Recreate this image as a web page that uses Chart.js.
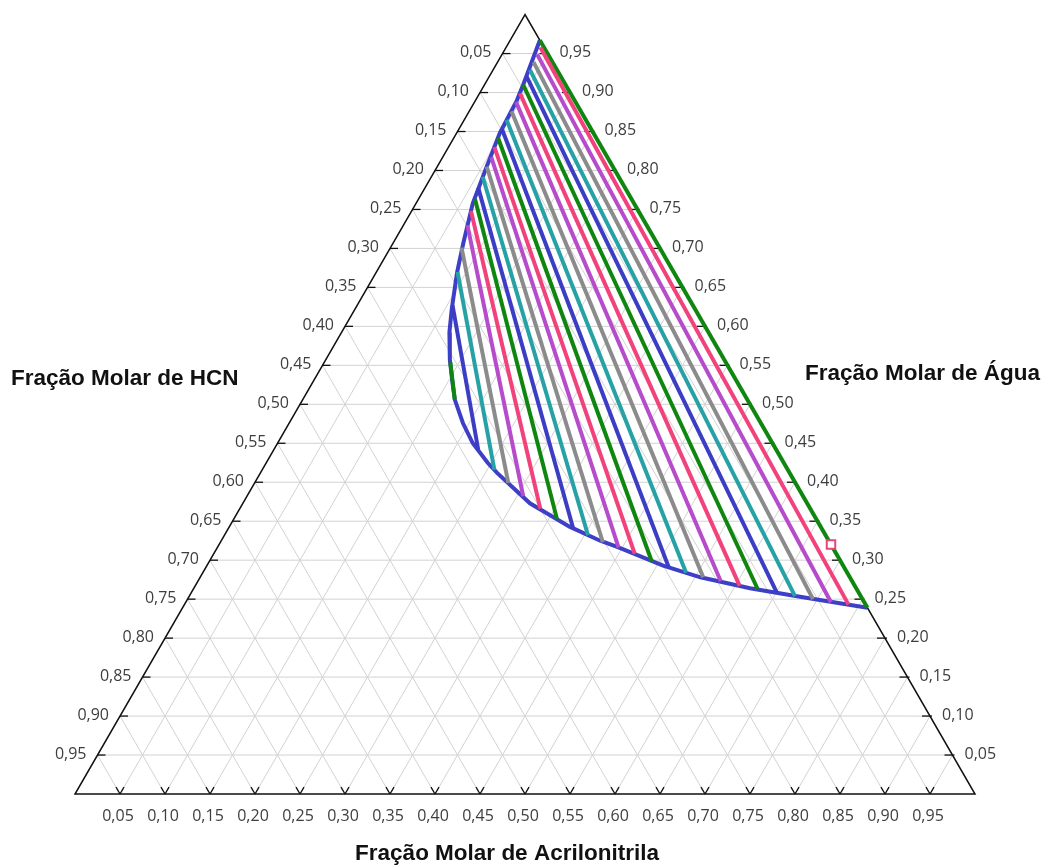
<!DOCTYPE html>
<html><head><meta charset="utf-8">
<script src="https://cdn.jsdelivr.net/npm/chart.js@4.4.1/dist/chart.umd.min.js"></script>
<style>html,body{margin:0;padding:0;background:#fff;overflow:hidden}#wrap{width:1048px;height:866px;position:relative}</style>
</head><body><div id="wrap"><canvas id="c" width="1048" height="866"></canvas></div>
<script>
// Tick values (same for the three axes) and their labels
const tickValues = [0.05,0.10,0.15,0.20,0.25,0.30,0.35,0.40,0.45,0.50,0.55,0.60,0.65,0.70,0.75,0.80,0.85,0.90,0.95];
const tickLabels = ['0,05','0,10','0,15','0,20','0,25','0,30','0,35','0,40','0,45','0,50','0,55','0,60','0,65','0,70','0,75','0,80','0,85','0,90','0,95'];

// Axis titles
const titleHCN = 'Fração Molar de HCN';
const titleWater = 'Fração Molar de Água';
const titleAcry = 'Fração Molar de Acrilonitrila';

// Binodal curve (water and HCN mole fractions; acrylonitrile = 1 - water - HCN)
const binodalWater = [0.967,0.910,0.890,0.848,0.805,0.758,0.707,0.669,0.621,0.592,0.557,0.527,0.506,0.476,0.450,0.425,0.412,0.373,0.343,0.325,0.317,0.293,0.278,0.264,0.253,0.239];
const binodalHCN   = [0.000,0.047,0.064,0.104,0.140,0.179,0.215,0.241,0.271,0.288,0.305,0.317,0.325,0.331,0.333,0.329,0.325,0.308,0.279,0.254,0.239,0.200,0.166,0.118,0.068,0.000];

// Tie lines: water-rich end and acrylonitrile-rich end
const tieTopWater    = [0.967,0.958,0.949,0.939,0.929,0.920,0.910,0.899,0.888,0.876,0.865,0.853,0.842,0.830,0.817,0.805,0.792,0.778,0.763,0.748,0.730,0.701,0.670,0.627,0.554];
const tieTopHCN      = [0.000,0.004,0.012,0.021,0.030,0.038,0.047,0.056,0.066,0.077,0.088,0.099,0.109,0.119,0.129,0.140,0.151,0.163,0.174,0.186,0.199,0.220,0.240,0.267,0.306];
const tieBottomWater = [0.239,0.243,0.246,0.250,0.254,0.258,0.263,0.267,0.273,0.278,0.284,0.290,0.298,0.308,0.316,0.323,0.332,0.341,0.353,0.366,0.382,0.399,0.416,0.442,0.506];
const tieBottomHCN   = [0.000,0.019,0.037,0.055,0.073,0.091,0.110,0.128,0.146,0.163,0.179,0.195,0.210,0.224,0.238,0.252,0.264,0.276,0.288,0.300,0.311,0.319,0.326,0.331,0.325];
const tieColors = ['#0f860f','#f2427c','#b64bcb','#8b8b8b','#26a2a6','#3b3ec4'];

// Marked point
const markerWater = [0.32];
const markerHCN = [0.00];

const S3 = Math.sqrt(3)/2;
function tern(w, h){ const a = 1 - w - h; return {x: a + w/2, y: w*S3}; }

const datasets = [];
datasets.push({
  data: markerWater.map((w,i)=>tern(w, markerHCN[i])),
  showLine:false, pointStyle:'rect', pointRadius:6, pointBorderWidth:2,
  pointBorderColor:'#e8457c', pointBackgroundColor:'#ffffff', clip:false
});
for (let i = tieTopWater.length-1; i >= 0; i--) {
  datasets.push({
    data:[tern(tieTopWater[i], tieTopHCN[i]), tern(tieBottomWater[i], tieBottomHCN[i])],
    showLine:true, borderColor:tieColors[i%6], borderWidth:4, pointRadius:0, clip:false
  });
}
datasets.push({
  data: binodalWater.map((w,i)=>tern(w, binodalHCN[i])),
  showLine:true, borderColor:'#3d3fc6', borderWidth:4, pointRadius:0, tension:0, clip:false
});

function P(chart, w, h){ const p = tern(w,h); return [chart.scales.x.getPixelForValue(p.x), chart.scales.y.getPixelForValue(p.y)]; }
function seg(ctx, a, b){ ctx.beginPath(); ctx.moveTo(a[0],a[1]); ctx.lineTo(b[0],b[1]); ctx.stroke(); }

const ternaryPlugin = {
  id:'ternary',
  beforeDatasetsDraw(chart){
    const ctx = chart.ctx;
    ctx.save();
    ctx.strokeStyle = '#d2d2d2'; ctx.lineWidth = 1;
    for (const v of tickValues){
      seg(ctx, P(chart, v, 1-v), P(chart, v, 0));
      seg(ctx, P(chart, 0, v), P(chart, 1-v, v));
      seg(ctx, P(chart, 0, 1-v), P(chart, 1-v, 0));
    }
    // border
    ctx.strokeStyle = '#111'; ctx.lineWidth = 1.5;
    const top = P(chart,1,0), bl = P(chart,0,1), br = P(chart,0,0);
    ctx.beginPath(); ctx.moveTo(top[0],top[1]); ctx.lineTo(bl[0],bl[1]); ctx.lineTo(br[0],br[1]); ctx.closePath(); ctx.stroke();
    // ticks
    ctx.lineWidth = 1.3;
    const L = 8;
    for (const v of tickValues){
      const l = P(chart, 1-v, v); seg(ctx, l, [l[0]+L, l[1]]);
      const r = P(chart, v, 0); seg(ctx, [r[0]+2, r[1]], [r[0]-L, r[1]]);
      const b = P(chart, 0, 1-v);
      seg(ctx, b, [b[0]-L*0.5, b[1]-L*S3]);
      seg(ctx, b, [b[0]+L*0.5, b[1]-L*S3]);
    }
    ctx.restore();
  },
  afterDraw(chart){
    const ctx = chart.ctx;
    ctx.save();
    ctx.fillStyle = '#3e3e3e';
    ctx.font = '16px "Open Sans"';
    tickValues.forEach((v,i)=>{
      const l = P(chart, 1-v, v);
      ctx.textAlign='right'; ctx.textBaseline='middle';
      ctx.fillText(tickLabels[i], l[0]-11, l[1]-1);
      const r = P(chart, v, 0);
      ctx.textAlign='left';
      ctx.fillText(tickLabels[i], r[0]+12, r[1]-1);
      const b = P(chart, 0, 1-v);
      ctx.textAlign='center'; ctx.textBaseline='middle';
      ctx.fillText(tickLabels[i], b[0]-2, b[1]+22);
    });
    ctx.fillStyle = '#111';
    ctx.font = 'bold 22.5px "Liberation Sans", Arial, sans-serif';
    ctx.textBaseline = 'alphabetic';
    ctx.textAlign = 'left';
    ctx.fillText(titleHCN, 11, 385);
    ctx.fillText(titleWater, 805, 380);
    ctx.textAlign = 'center';
    ctx.fillText(titleAcry, 507, 860);
    ctx.restore();
  }
};

new Chart(document.getElementById('c'), {
  type:'scatter',
  data:{datasets},
  options:{
    responsive:false, animation:false, events:[],
    layout:{padding:{left:75, right:73, top:14.6, bottom:72}},
    plugins:{legend:{display:false}, tooltip:{enabled:false}},
    scales:{
      x:{type:'linear', min:0, max:1, display:false},
      y:{type:'linear', min:0, max:S3, display:false}
    }
  },
  plugins:[ternaryPlugin]
});
</script></body></html>
